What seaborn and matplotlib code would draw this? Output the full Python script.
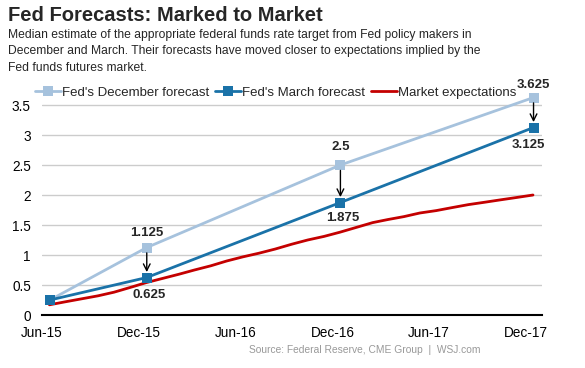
import pandas as pd
import numpy as np
import matplotlib.pyplot as plt
import matplotlib.dates as mdates
import seaborn as sns

sns.set_theme(style="white")
plt.rcParams['font.family'] = ['Liberation Sans', 'DejaVu Sans']

# forecast dates (mid-month points) and values
forecast_dates = pd.to_datetime(['2015-06-16', '2015-12-16', '2016-12-16', '2017-12-16'])
december_fc = [0.25, 1.125, 2.5, 3.625]
march_fc = [0.25, 0.625, 1.875, 3.125]

# market expectations, monthly
market_dates = pd.date_range('2015-06-01', periods=31, freq='MS') + pd.Timedelta(days=14)
market_vals = [0.17, 0.22, 0.27, 0.32, 0.38, 0.46, 0.54, 0.61, 0.68, 0.75, 0.82,
               0.90, 0.97, 1.03, 1.10, 1.18, 1.25, 1.31, 1.38, 1.46, 1.54, 1.59,
               1.64, 1.70, 1.74, 1.79, 1.84, 1.88, 1.92, 1.96, 2.00]

tick_dates = pd.to_datetime(['2015-06-01', '2015-12-01', '2016-06-01',
                             '2016-12-01', '2017-06-01', '2017-12-01'])

c_dec = '#a6c2dd'
c_mar = '#1a72a8'
c_mkt = '#c40000'

fig = plt.figure(figsize=(5.85, 3.68), dpi=100)
ax = fig.add_axes([0.0718, 0.144, 0.8547, 0.6114])

sns.lineplot(x=forecast_dates, y=december_fc, ax=ax, color=c_dec, lw=2,
             marker='s', markersize=7, markeredgewidth=0, label="Fed's December forecast")
sns.lineplot(x=forecast_dates, y=march_fc, ax=ax, color=c_mar, lw=2,
             marker='s', markersize=7, markeredgewidth=0, label="Fed's March forecast")
sns.lineplot(x=market_dates, y=market_vals, ax=ax, color=c_mkt, lw=2,
             label='Market expectations', zorder=1)

ax.set_xlim(pd.Timestamp('2015-06-01'), pd.Timestamp('2018-01-01'))
ax.set_ylim(0, 3.75)
ax.set_yticks([0, 0.5, 1, 1.5, 2, 2.5, 3, 3.5])
ax.set_yticklabels(['0', '0.5', '1', '1.5', '2', '2.5', '3', '3.5'])
ax.set_xticks(tick_dates)
ax.xaxis.set_major_formatter(mdates.DateFormatter('%b-%y'))
ax.tick_params(axis='y', length=0, labelsize=9.8, pad=8, colors='black')
ax.tick_params(axis='x', direction='out', length=4, width=1.2, color='black',
               labelsize=9.8, pad=4, labelcolor='black')
ax.yaxis.grid(True, color='#cccccc', lw=1)
ax.set_axisbelow(True)
for s in ['top', 'right', 'left']:
    ax.spines[s].set_visible(False)
ax.spines['bottom'].set_color('black')
ax.spines['bottom'].set_linewidth(1.5)
ax.set_xlabel('')
ax.set_ylabel('')

# labels and arrows
offsets_dec = [None, (0, 6), (0, 9), (0, 5)]
offsets_mar = [None, (2, -8), (2, -7), (-4, -8.5)]
for i in range(1, 4):
    ax.annotate(f'{december_fc[i]:g}', (forecast_dates[i], december_fc[i]),
                xytext=offsets_dec[i], textcoords='offset points',
                ha='center', va='bottom', fontsize=9.5, fontweight='bold')
    ax.annotate(f'{march_fc[i]:g}', (forecast_dates[i], march_fc[i]),
                xytext=offsets_mar[i], textcoords='offset points',
                ha='center', va='top', fontsize=9.5, fontweight='bold')
    ax.annotate('', xy=(forecast_dates[i], march_fc[i] + 0.09),
                xytext=(forecast_dates[i], december_fc[i] - 0.09),
                arrowprops=dict(arrowstyle='->', color='black', lw=1, shrinkA=0, shrinkB=0))

leg = ax.legend(loc='lower left', bbox_to_anchor=(-0.015, 0.96), ncol=3, frameon=False,
                fontsize=9.5, handlelength=2.0, handletextpad=0.1, columnspacing=0.4,
                borderaxespad=0, borderpad=0)

fig.text(0.014, 0.985, 'Fed Forecasts: Marked to Market', fontsize=14.5,
         fontweight='bold', va='top', ha='left')
fig.text(0.014, 0.92,
         'Median estimate of the appropriate federal funds rate target from Fed policy makers in\n'
         'December and March. Their forecasts have moved closer to expectations implied by the\n'
         'Fed funds futures market.',
         fontsize=8.7, va='top', ha='left', linespacing=1.45)
fig.text(0.822, 0.035, 'Source: Federal Reserve, CME Group  |  WSJ.com', fontsize=7.4,
         color='#999999', ha='right', va='bottom')

fig.savefig('out.png', dpi=100)
